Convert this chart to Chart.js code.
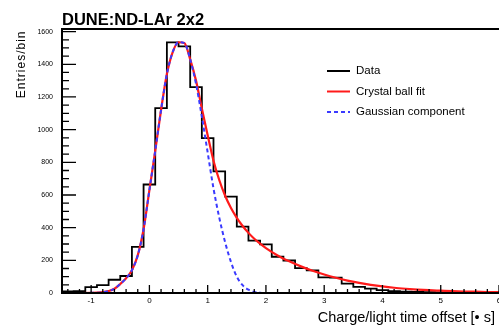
<!DOCTYPE html>
<html><head><meta charset="utf-8">
<script src="https://cdn.jsdelivr.net/npm/chart.js@4.4.1/dist/chart.umd.min.js"></script>
<style>html,body{margin:0;padding:0;background:#fff;overflow:hidden}</style>
</head><body>
<canvas id="c" width="499" height="327"></canvas>
<script>
// ---- data ----
const binLow = -1.5;
const binWidth = 0.2;
const counts = [10, 12, 36, 48, 81, 104, 282, 664, 1132, 1534, 1510, 1260, 948, 745, 590, 406, 320, 298, 222, 199, 152, 138, 96, 94, 57, 38, 27, 18, 12, 8, 6, 5, 4, 3, 2, 2, 1, 1];
const fitX = [-1.5, -1.2, -1.0, -0.9, -0.8, -0.7, -0.6, -0.5, -0.4, -0.3, -0.2, -0.1, 0.0, 0.1, 0.2, 0.3, 0.4, 0.5, 0.6, 0.7, 0.8, 0.9, 1.0, 1.1, 1.2, 1.3, 1.4, 1.5, 1.6, 1.7, 1.8, 1.9, 2.0, 2.2, 2.4, 2.6, 2.8, 3.0, 3.2, 3.4, 3.6, 3.8, 4.0, 4.2, 4.4, 4.6, 4.8, 5.0, 5.2, 5.4, 5.6, 5.8, 6.0];
const crystalBall = [0, 0, 1, 2, 5, 12, 26, 55, 90, 140, 230, 390, 630, 870, 1120, 1340, 1475, 1535, 1530, 1430, 1300, 1130, 965, 810, 690, 595, 520, 460, 410, 368, 332, 302, 275, 230, 194, 163, 136, 113, 93, 76, 62, 50, 40, 32, 26, 21, 17, 14, 11, 9, 8, 6, 5];
const gaussian = [0, 0, 1, 2, 5, 12, 26, 55, 90, 140, 230, 390, 630, 870, 1120, 1340, 1475, 1535, 1530, 1430, 1280, 1080, 860, 640, 460, 310, 190, 100, 48, 20, 7, 2, 0, 0, 0, 0, 0, 0, 0, 0, 0, 0, 0, 0, 0, 0, 0, 0, 0, 0, 0, 0, 0];
const xTickValues = [-1, 0, 1, 2, 3, 4, 5, 6];
const yTickValues = [0, 200, 400, 600, 800, 1000, 1200, 1400, 1600];
const seriesNames = ['Data', 'Crystal ball fit', 'Gaussian component'];
const titleText = 'DUNE:ND-LAr 2x2';
const xTitle = 'Charge/light time offset [\u2022 s]';
const yTitle = 'Entries/bin';

// ---- styles ----
const FONT = '"Liberation Sans", Arial, Helvetica, sans-serif';
const colors = ['#000000', '#ff1a1a', '#3a3aff'];
Chart.defaults.font.family = FONT;
Chart.defaults.color = '#000';

const histPoints = counts.map((c, i) => ({x: binLow + i * binWidth, y: c}));
histPoints.push({x: binLow + counts.length * binWidth, y: counts[counts.length - 1]});
const cbPoints = fitX.map((x, i) => ({x, y: crystalBall[i]}));
const gPoints = fitX.map((x, i) => ({x, y: gaussian[i]}));

const rootFrame = {
  id: 'rootFrame',
  afterDatasetsDraw(chart) {
    const {ctx, chartArea: a, scales} = chart;
    const xs = scales.x, ys = scales.y;
    ctx.save();
    ctx.strokeStyle = '#000';
    ctx.lineWidth = 2;
    ctx.beginPath();
    ctx.moveTo(a.left, a.top); ctx.lineTo(a.right, a.top);
    ctx.moveTo(a.left, a.top - 1); ctx.lineTo(a.left, a.bottom + 1);
    ctx.moveTo(a.left - 1, a.bottom); ctx.lineTo(a.right, a.bottom);
    ctx.stroke();
    ctx.lineWidth = 1.3;
    ctx.beginPath();
    for (let k = -7; k <= 30; k++) {
      const v = k * 0.2;
      const major = Math.abs(v - Math.round(v)) < 1e-6;
      const px = xs.getPixelForValue(v);
      ctx.moveTo(px, a.bottom);
      ctx.lineTo(px, a.bottom - (major ? 8 : 4));
    }
    for (let k = 0; k <= 32; k++) {
      const v = k * 50;
      const major = v % 200 === 0;
      const py = ys.getPixelForValue(v);
      ctx.moveTo(a.left, py);
      ctx.lineTo(a.left + (major ? 14 : 7), py);
    }
    ctx.stroke();
    ctx.restore();
  },
  afterDraw(chart) {
    const {ctx} = chart;
    ctx.save();
    ctx.fillStyle = '#000';
    // title
    ctx.font = 'bold 16.5px ' + FONT;
    ctx.textAlign = 'left';
    ctx.textBaseline = 'alphabetic';
    ctx.fillText(titleText, 62, 25);
    // x title
    ctx.font = '14.5px ' + FONT;
    ctx.textAlign = 'right';
    ctx.fillText(xTitle, 495, 321.5);
    // y title
    ctx.save();
    ctx.translate(25, 30.5);
    ctx.rotate(-Math.PI / 2);
    ctx.font = '12px ' + FONT;
    try { ctx.letterSpacing = '1px'; } catch (e) {}
    ctx.textAlign = 'right';
    ctx.fillText(yTitle, 0, 0);
    ctx.restore();
    // legend
    const rowY = [71, 91.5, 112];
    const ds = chart.data.datasets;
    ctx.font = '11.5px ' + FONT;
    ctx.textAlign = 'left';
    ctx.textBaseline = 'middle';
    for (let i = 0; i < ds.length; i++) {
      ctx.strokeStyle = ds[i].borderColor;
      ctx.lineWidth = 2;
      ctx.setLineDash(ds[i].borderDash || []);
      ctx.beginPath();
      ctx.moveTo(327, rowY[i]); ctx.lineTo(350, rowY[i]);
      ctx.stroke();
      ctx.setLineDash([]);
      ctx.fillStyle = '#000';
      ctx.fillText(ds[i].label, 356, rowY[i]);
    }
    ctx.restore();
  }
};

new Chart(document.getElementById('c'), {
  type: 'line',
  data: {
    datasets: [
      {label: seriesNames[0], data: histPoints, stepped: 'before', borderColor: colors[0], borderWidth: 1.8, pointRadius: 0, fill: false, order: 2},
      {label: seriesNames[1], data: cbPoints, borderColor: colors[1], borderWidth: 2.2, pointRadius: 0, fill: false, cubicInterpolationMode: 'monotone', order: 1},
      {label: seriesNames[2], data: gPoints, borderColor: colors[2], borderWidth: 2, borderDash: [4, 3], pointRadius: 0, fill: false, cubicInterpolationMode: 'monotone', order: 0}
    ]
  },
  options: {
    responsive: false,
    animation: false,
    events: [],
    layout: {padding: {top: 29, left: 0, right: 0, bottom: 0}},
    plugins: {legend: {display: false}, tooltip: {enabled: false}, title: {display: false}},
    scales: {
      x: {
        type: 'linear', min: -1.5, max: 6,
        grid: {display: false, drawTicks: false},
        border: {display: false},
        ticks: {font: {size: 8}, color: '#000', padding: 3, maxRotation: 0, autoSkip: false, callback: v => String(v)},
        afterBuildTicks: s => { s.ticks = xTickValues.map(v => ({value: v})); },
        afterFit: s => { s.height = 34; s.paddingLeft = 0; s.paddingRight = 0; }
      },
      y: {
        type: 'linear', min: 0, max: 1616,
        grid: {display: false, drawTicks: false},
        border: {display: false},
        ticks: {font: {size: 7}, color: '#000', padding: 9, autoSkip: false, callback: v => String(v)},
        afterBuildTicks: s => { s.ticks = yTickValues.map(v => ({value: v})); },
        afterFit: s => { s.width = 62; s.paddingTop = 0; s.paddingBottom = 0; }
      }
    }
  },
  plugins: [rootFrame]
});
</script>
</body></html>
